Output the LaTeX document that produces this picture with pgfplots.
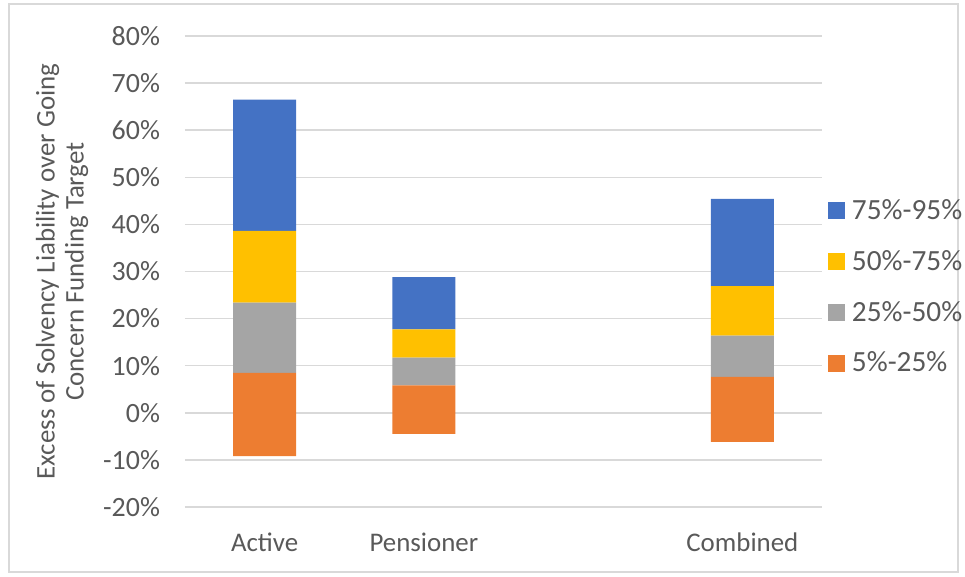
\documentclass[border=0pt]{standalone}
\usepackage{pgfplots}
\pgfplotsset{compat=1.18}
\usepackage{fontspec}
\setmainfont{Carlito}
\definecolor{cblue}{HTML}{4472C4}
\definecolor{corange}{HTML}{ED7D31}
\definecolor{cgray}{HTML}{A5A5A5}
\definecolor{cyellow}{HTML}{FFC000}
\definecolor{ctext}{HTML}{595959}
\definecolor{cgrid}{HTML}{D9D9D9}
\begin{document}
\begin{tikzpicture}
\useasboundingbox (-92.5bp,-35bp) rectangle (390bp,253.5bp);
\draw[cgrid, line width=0.75bp] (-88bp,-32.5bp) rectangle (386.5bp,251.5bp);
\begin{axis}[
  at={(0,0)}, anchor=south west,
  scale only axis,
  width=318.5bp, height=235.5bp,
  ybar stacked,
  stack negative=on previous,
  bar width=31.5bp,
  xmin=-0.5, xmax=3.5,
  ymin=-20, ymax=80,
  ytick={-20,-10,0,10,20,30,40,50,60,70,80},
  xtick={0,1,3},
  xticklabels={Active,Pensioner,Combined},
  yticklabel={\pgfmathparse{int(\tick)}\pgfmathresult\%},
  ymajorgrids,
  grid style={cgrid, line width=0.75bp},
  axis line style={draw=none},
  major tick length=0pt,
  tick label style={text=ctext},
  yticklabel style={font=\fontsize{14}{16}\selectfont, anchor=east, xshift=-9bp},
  xticklabel style={font=\fontsize{13.5}{16}\selectfont, anchor=base, yshift=-22bp},
  ylabel={Excess of Solvency Liability over Going\\Concern Funding Target},
  ylabel style={align=center, font=\fontsize{13.5}{14.5}\selectfont, text=ctext, at={(axis description cs:-0.1930,0.5)}, anchor=center},
  legend style={draw=none, fill=none, at={(1.0094,0.467)}, anchor=west,
    font=\fontsize{14.7}{16}\selectfont, text=ctext, inner sep=0pt,
    row sep=10bp, column sep=1.5bp, nodes={inner sep=2pt}},
  legend cell align=left,
  reverse legend,
  legend image code/.code={\fill[#1] (0bp,-4.15bp) rectangle (8.3bp,4.15bp);},
]
\addplot[draw=none, fill=none, forget plot] coordinates {(0,-9.2) (1,-4.5) (3,-6.2)};
\addplot[draw=none, fill=corange] coordinates {(0,17.7) (1,10.3) (3,13.8)};
\addplot[draw=none, fill=cgray] coordinates {(0,14.9) (1,5.9) (3,8.8)};
\addplot[draw=none, fill=cyellow] coordinates {(0,15.2) (1,6.0) (3,10.5)};
\addplot[draw=none, fill=cblue] coordinates {(0,27.9) (1,11.1) (3,18.5)};
\legend{5\%-25\%,25\%-50\%,50\%-75\%,75\%-95\%}
\draw[cgrid, line width=0.75bp] (axis cs:-0.5,0) -- (axis cs:3.5,0);
\end{axis}
\end{tikzpicture}
\end{document}
